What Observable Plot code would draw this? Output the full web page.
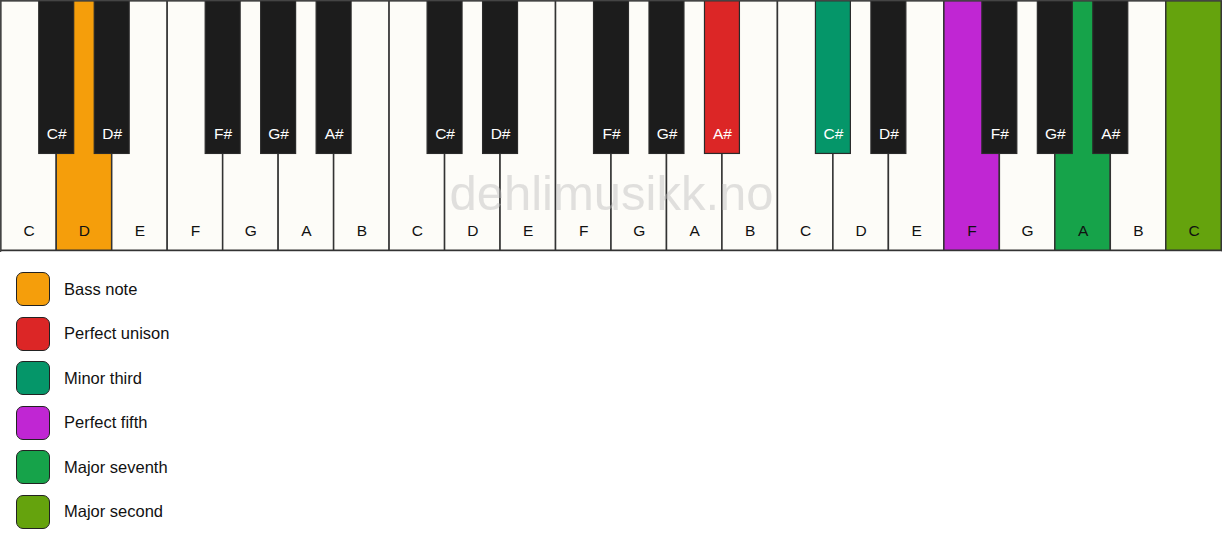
<!DOCTYPE html>
<html>
<head>
<meta charset="utf-8">
<script src="https://cdn.jsdelivr.net/npm/d3@7"></script>
<script src="https://cdn.jsdelivr.net/npm/@observablehq/plot@0.6"></script>
<style>
  html, body { margin: 0; padding: 0; background: #ffffff; }
  body { width: 1222px; height: 550px; overflow: hidden; font-family: "Liberation Sans", Arial, sans-serif; }
  #chart svg { display: block; }
  #legend { padding: 20px 0 0 16px; }
  .row { display: flex; align-items: center; height: 34px; margin-bottom: 10.5px; }
  .sw { width: 32px; height: 32px; border: 1.2px solid #222; border-radius: 7px; box-sizing: content-box; }
  .lab { margin-left: 14px; font-size: 16.5px; color: #111; }
</style>
</head>
<body>
<div id="chart"></div>
<div id="legend"></div>
<script>
// White keys, left to right (3 octaves + top C)
const whiteKeys = ["C1","D1","E1","F1","G1","A1","B1",
                   "C2","D2","E2","F2","G2","A2","B2",
                   "C3","D3","E3","F3","G3","A3","B3","C4"];
// Black keys and the white-key boundary they sit on
const blackKeys = ["C#1","D#1","F#1","G#1","A#1",
                   "C#2","D#2","F#2","G#2","A#2",
                   "C#3","D#3","F#3","G#3","A#3"];
const blackBoundary = [1,2,4,5,6, 8,9,11,12,13, 15,16,18,19,20];

// Highlighted notes and their legend entries
const legendLabels = ["Bass note","Perfect unison","Minor third","Perfect fifth","Major seventh","Major second"];
const highlightKeys = ["D1","A#2","C#3","F3","A3","C4"];
const legendColors = ["#f59e0b","#dc2626","#059669","#c026d3","#16a34a","#65a30d"];

const watermark = "dehlimusikk.no";

const noteName = k => k.replace(/\d/g, "");
const roleOf = (k, base) => {
  const i = highlightKeys.indexOf(k);
  return i >= 0 ? legendLabels[i] : base;
};

const whiteData = whiteKeys.map((k, i) => ({key: k, pos: i, role: roleOf(k, "white")}));
const blackData = blackKeys.map((k, i) => ({key: k, pos: blackBoundary[i], role: roleOf(k, "black")}));

const BLACK_HALF = 0.315;   // half width of a black key, in white-key units
const BLACK_DEPTH = 0.612;  // black key length relative to white key

const chart = Plot.plot({
  width: 1222,
  height: 252,
  margin: 0,
  style: {fontFamily: "'Liberation Sans', Arial, sans-serif", background: "transparent"},
  x: {domain: [0, whiteKeys.length], range: [0.75, 1221.25], axis: null},
  y: {domain: [0, 1], range: [0.75, 250.25], axis: null},
  color: {domain: [...legendLabels, "white", "black"], range: [...legendColors, "#fdfcf8", "#1c1c1c"]},
  marks: [
    Plot.rect(whiteData, {x1: "pos", x2: d => d.pos + 1, y1: 0, y2: 1, fill: "role", stroke: "#333", strokeWidth: 1.5}),
    Plot.text(whiteData, {x: d => d.pos + 0.5, y: 0.92, text: d => noteName(d.key), fill: "#111", fontSize: 15.5}),
    Plot.text([watermark], {x: whiteKeys.length / 2, y: 0.772, text: d => d, fill: "#bdbdbd", fillOpacity: 0.45, fontSize: 49}),
    Plot.rect(blackData, {x1: d => d.pos - BLACK_HALF, x2: d => d.pos + BLACK_HALF, y1: 0, y2: BLACK_DEPTH, fill: "role", stroke: "#2a2a2a", strokeWidth: 1.2}),
    Plot.text(blackData, {x: "pos", y: 0.534, text: d => noteName(d.key), fill: "#ffffff", fontSize: 15.5}),
    Plot.frame({stroke: "#444", strokeWidth: 1.5})
  ]
});
document.getElementById("chart").append(chart);

const legend = d3.select("#legend");
legendLabels.forEach((lab, i) => {
  const row = legend.append("div").attr("class", "row");
  row.append("div").attr("class", "sw").style("background", legendColors[i]);
  row.append("div").attr("class", "lab").text(lab);
});
</script>
</body>
</html>
